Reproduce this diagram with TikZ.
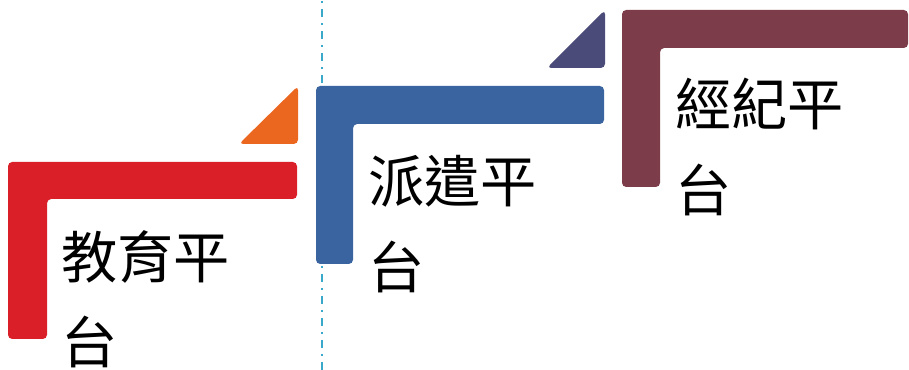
\documentclass[tikz,border=0pt]{standalone}
\usepackage{fontspec}
\newfontfamily\cjkfont{Noto Sans CJK TC}
\usetikzlibrary{positioning}

\definecolor{eduRed}{HTML}{DA1F28}
\definecolor{eduOrange}{HTML}{EB661F}
\definecolor{dispBlue}{HTML}{3A64A0}
\definecolor{dispNavy}{HTML}{4A4B78}
\definecolor{agentMaroon}{HTML}{7D3C4A}
\definecolor{guideTeal}{HTML}{3AA8C8}

\tikzset{
  bracket/.style={rounded corners=3pt},
  platlabel/.style={anchor=north west, inner sep=0pt, align=left,
    font=\cjkfont\fontsize{40pt}{61pt}\selectfont}
}

\begin{document}
\begin{tikzpicture}

  \useasboundingbox (0,0) rectangle (22.725,9.25);
  \clip (0,0) rectangle (22.725,9.25);

  \draw[guideTeal, line width=1.4pt,
    dash pattern=on 5.7pt off 4.3pt on 1.4pt off 4.3pt] (8.05,0) -- (8.05,9.25);

  \fill[eduRed, bracket] (0.2,5.2) -- (7.425,5.2) -- (7.425,4.275) -- (1.175,4.275)
    -- (1.175,0.775) -- (0.2,0.775) -- cycle;
  \fill[eduOrange, bracket] (7.45,7.1) -- (7.45,5.65) -- (5.975,5.65) -- cycle;

  \fill[dispBlue, bracket] (7.9,7.1) -- (15.1,7.1) -- (15.1,6.15) -- (8.825,6.15)
    -- (8.825,2.65) -- (7.9,2.65) -- cycle;
  \fill[dispNavy, bracket] (15.125,9.0) -- (15.125,7.55) -- (13.675,7.55) -- cycle;

  \fill[agentMaroon, bracket] (15.55,9.0) -- (22.7,9.0) -- (22.7,8.05) -- (16.5,8.05)
    -- (16.5,4.575) -- (15.55,4.575) -- cycle;

  \node[platlabel] (edu) at (1.52,3.5) {教育平\\台};
  \node[platlabel] (dispatch) at (9.2,5.375) {派遣平\\台};
  \node[platlabel] (agency) at (16.87,7.3) {經紀平\\台};

\end{tikzpicture}
\end{document}
